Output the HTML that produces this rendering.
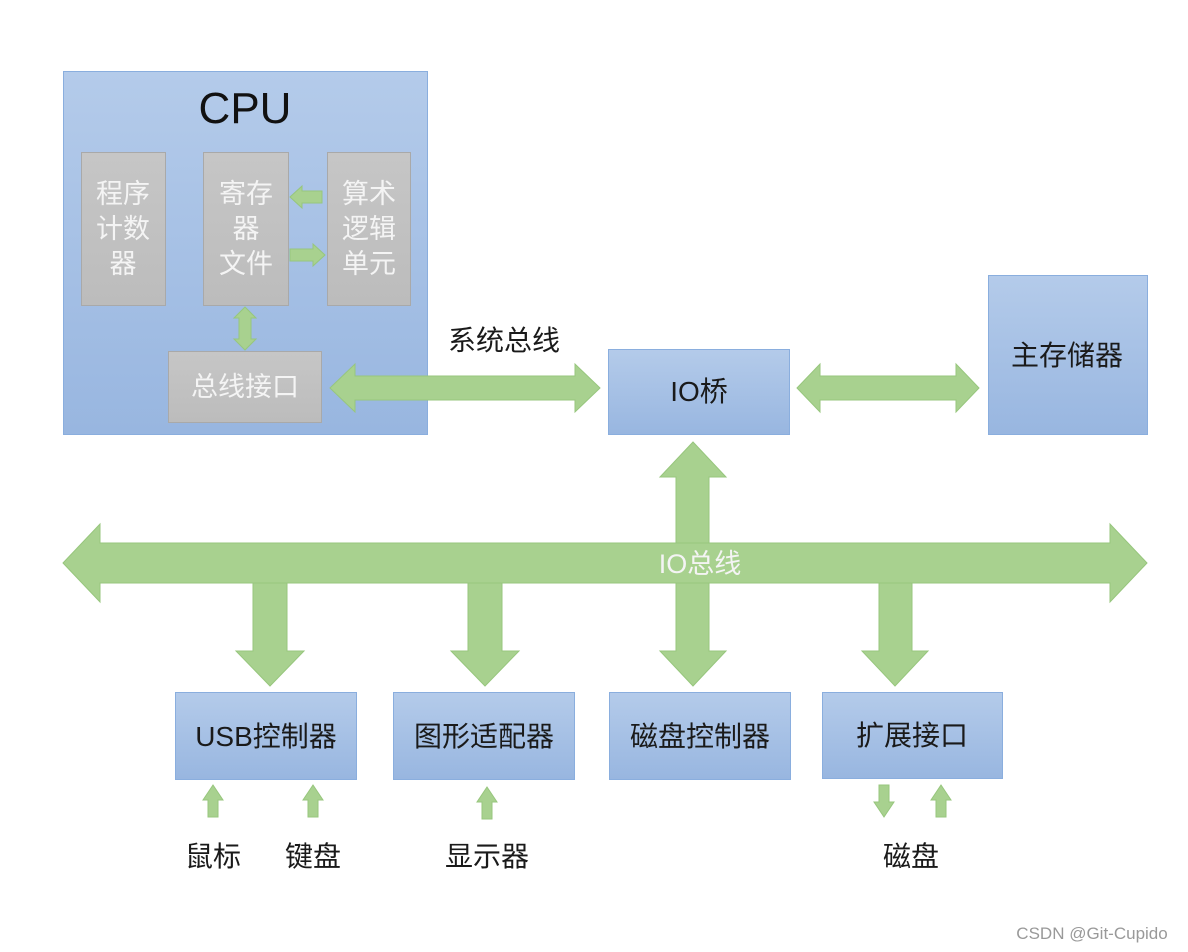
<!DOCTYPE html>
<html><head><meta charset="utf-8"><style>
html,body{margin:0;padding:0;background:#fff;}
svg{display:block;}
text{font-family:"Liberation Sans","Noto Sans CJK SC",sans-serif;}
</style></head><body>
<svg width="1188" height="952" viewBox="0 0 1188 952" xmlns="http://www.w3.org/2000/svg">
<defs>
<linearGradient id="bl" x1="0" y1="0" x2="0" y2="1"><stop offset="0" stop-color="#b4cbea"/><stop offset="1" stop-color="#98b6e0"/></linearGradient>
<linearGradient id="gr" x1="0" y1="0" x2="0" y2="1"><stop offset="0" stop-color="#c6c6c6"/><stop offset="1" stop-color="#bcbcbc"/></linearGradient>
</defs>
<g stroke="#8aaede" stroke-width="1">
<rect x="63.5" y="71.5" width="364" height="363" fill="url(#bl)"/>
<rect x="608.5" y="349.5" width="181" height="85" fill="url(#bl)"/>
<rect x="988.5" y="275.5" width="159" height="159" fill="url(#bl)"/>
<rect x="175.5" y="692.5" width="181" height="87" fill="url(#bl)"/>
<rect x="393.5" y="692.5" width="181" height="87" fill="url(#bl)"/>
<rect x="609.5" y="692.5" width="181" height="87" fill="url(#bl)"/>
<rect x="822.5" y="692.5" width="180" height="86" fill="url(#bl)"/>
</g>
<g stroke="#a9a9a9" stroke-width="1" fill="url(#gr)">
<rect x="81.5" y="152.5" width="84" height="153"/>
<rect x="203.5" y="152.5" width="85" height="153"/>
<rect x="327.5" y="152.5" width="83" height="153"/>
<rect x="168.5" y="351.5" width="153" height="71"/>
</g>
<g fill="#a8d18f" stroke="#97c67d" stroke-width="1">
<polygon points="290,197 302,186 302,191 322,191 322,203 302,203 302,208"/>
<polygon points="325,255 313,244 313,249 290,249 290,261 313,261 313,266"/>
<polygon points="245,307 256,318 251,318 251,339 256,339 245,350 234,339 239,339 239,318 234,318"/>
<polygon points="330,388 355,364 355,376 575,376 575,364 600,388 575,412 575,400 355,400 355,412"/>
<polygon points="797,388 820,364 820,376 956,376 956,364 979,388 956,412 956,400 820,400 820,412"/>
<polygon points="693,442 726,477 709,477 709,651 726,651 693,686 660,651 676,651 676,477 660,477"/>
<polygon points="63,563 100,524 100,543 1110,543 1110,524 1147,563 1110,602 1110,583 100,583 100,602"/>
<polygon points="253,583 287,583 287,651 304,651 270,686 236,651 253,651"/>
<polygon points="468,583 502,583 502,651 519,651 485,686 451,651 468,651"/>
<polygon points="879,583 912,583 912,651 928,651 895,686 862,651 879,651"/>
<polygon points="213,785 223,800 218,800 218,817 208,817 208,800 203,800"/>
<polygon points="313,785 323,800 318,800 318,817 308,817 308,800 303,800"/>
<polygon points="487,787 497,802 492,802 492,819 482,819 482,802 477,802"/>
<polygon points="884,817 894,802 889,802 889,785 879,785 879,802 874,802"/>
<polygon points="941,785 951,800 946,800 946,817 936,817 936,800 931,800"/>
</g>
<g text-anchor="middle">
<text x="245" y="123" font-size="44" fill="#111">CPU</text>
<g font-size="27" fill="#f4f4f4">
<text x="123" y="203">程序</text><text x="123" y="238">计数</text><text x="123" y="273">器</text>
<text x="246" y="203">寄存</text><text x="246" y="238">器</text><text x="246" y="273">文件</text>
<text x="369" y="203">算术</text><text x="369" y="238">逻辑</text><text x="369" y="273">单元</text>
<text x="245" y="396">总线接口</text>
<text x="700" y="573">IO总线</text>
</g>
<g font-size="28" fill="#1a1a1a">
<text x="504" y="350">系统总线</text>
<text x="699" y="401">IO桥</text>
<text x="1067" y="365">主存储器</text>
<text x="266" y="746">USB控制器</text>
<text x="484" y="746">图形适配器</text>
<text x="700" y="746">磁盘控制器</text>
<text x="912" y="745">扩展接口</text>
<text x="213" y="866">鼠标</text>
<text x="313" y="866">键盘</text>
<text x="487" y="866">显示器</text>
<text x="911" y="866">磁盘</text>
</g>
<text x="1092" y="939" font-size="17" fill="#999">CSDN @Git-Cupido</text>
</g>
</svg>
</body></html>
